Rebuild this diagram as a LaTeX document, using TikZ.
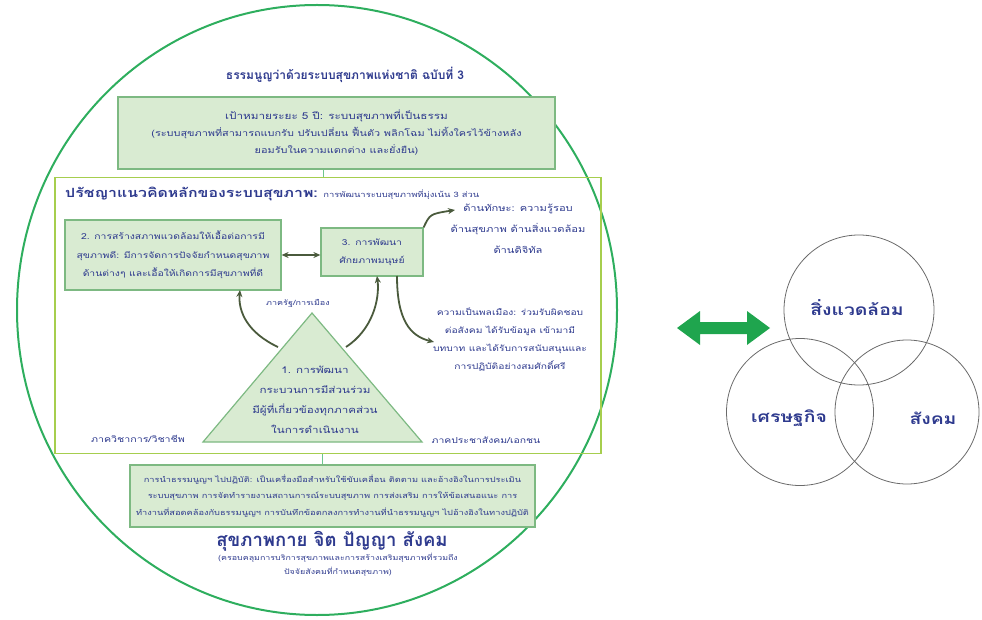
\documentclass[tikz,border=0pt]{standalone}
\usepackage{fontspec}
\newfontfamily\thai[Script=Thai]{Loma}
\newfontfamily\thaiw[Script=Thai,FakeStretch=1.25]{Loma}
\usetikzlibrary{arrows.meta}
\definecolor{txt}{HTML}{2E3A8E}
\definecolor{circ}{HTML}{2EAE5E}
\definecolor{yg}{HTML}{A6CE4E}
\definecolor{boxfill}{HTML}{D9EBD2}
\definecolor{boxline}{HTML}{7DB982}
\definecolor{arr}{HTML}{4A5A3C}
\definecolor{garrow}{HTML}{1FA54E}
\definecolor{venn}{HTML}{6A6A6A}
\newcommand{\fs}[2]{\thaiw\fontsize{#1}{#2}\selectfont}
\begin{document}
\begin{tikzpicture}[x=1pt,y=-1pt,
  every node/.style={font=\thaiw, text=txt, inner sep=0pt},
  gbox/.style={draw=boxline, fill=boxfill, line width=1.2pt, minimum width=#1},
  small/.style={align=center},
  curvearrow/.style={draw=arr, line width=1.8pt, -{Stealth[length=7pt,width=6pt]}},
  venncirc/.style={draw=venn, line width=0.8pt},
  vennlabel/.style={font=\fs{15.5}{18}\bfseries}]
\useasboundingbox (0,0) rectangle (982,620);
% big circle
\draw[circ, line width=2pt] (317,310) ellipse [x radius=300, y radius=305];
% title
\node[font=\thai\bfseries\fontsize{12}{15}\selectfont] (title) at (345,75) {ธรรมนูญว่าด้วยระบบสุขภาพแห่งชาติ ฉบับที่ 3};
% goal box
\node[gbox=437pt, minimum height=72pt, small, font=\fs{8.7}{17}] (goal) at (336.5,133)
 {{\fs{9.4}{17}เป้าหมายระยะ 5 ปี: ระบบสุขภาพที่เป็นธรรม}\\
  (ระบบสุขภาพที่สามารถแบกรับ ปรับเปลี่ยน ฟื้นตัว พลิกโฉม ไม่ทิ้งใครไว้ข้างหลัง\\
  ยอมรับในความแตกต่าง และยั่งยืน)};
% philosophy box
\node[draw=yg, line width=1.5pt, minimum width=546pt, minimum height=276pt] (phil) at (328,315.5) {};
\draw[circ!70, line width=1.2pt] ([xshift=-13pt]goal.south) -- ([xshift=-13pt]goal.south |- phil.north);
\node[anchor=west] (philhead) at (65,194)
 {{\fs{12.7}{14}\bfseries ปรัชญาแนวคิดหลักของระบบสุขภาพ:} {\fs{7.5}{12}การพัฒนาระบบสุขภาพที่มุ่งเน้น 3 ส่วน}};
% box 2
\node[gbox=216pt, minimum height=70pt, small, font=\fs{8.3}{18.5}] (b2) at (173,255)
 {2. การสร้างสภาพแวดล้อมให้เอื้อต่อการมี\\
  สุขภาพดี: มีการจัดการปัจจัยกำหนดสุขภาพ\\
  ด้านต่างๆ และเอื้อให้เกิดการมีสุขภาพที่ดี};
% box 3
\node[gbox=102pt, minimum height=48pt, small, font=\fs{8.3}{18}] (b3) at (372,252)
 {3. การพัฒนา\\ ศักยภาพมนุษย์};
\draw[draw=arr, line width=1.8pt, {Stealth[length=7pt,width=6pt]}-{Stealth[length=7pt,width=6pt]}] (b2.east |- 0,255) -- (b3.west |- 0,255);
% right texts
\node[small, font=\fs{8.9}{21}] (skills) at (518,229)
 {ด้านทักษะ: ความรู้รอบ\\ ด้านสุขภาพ ด้านสิ่งแวดล้อม\\ ด้านดิจิทัล};
\node[small, font=\fs{8.2}{18}] (citizen) at (510,340)
 {ความเป็นพลเมือง: ร่วมรับผิดชอบ\\ ต่อสังคม ได้รับข้อมูล เข้ามามี\\ บทบาท และได้รับการสนับสนุนและ\\ การปฏิบัติอย่างสมศักดิ์ศรี};
\coordinate (skillsend) at (455,210);
\coordinate (citizenend) at (434,342);
\draw[curvearrow] (b3.north east) .. controls (430,214) .. (skillsend);
\draw[curvearrow] (397,276) .. controls (397,320) and (410,336) .. (citizenend);
% triangle
\coordinate (apex) at (312,313);
\coordinate (bl) at (203,442);
\coordinate (br) at (422,442);
\draw[draw=boxline, fill=boxfill, line width=1.2pt] (apex) -- (br) -- (bl) -- cycle;
\node[small, font=\fs{9.3}{20}] (tri) at (315,400)
 {1. การพัฒนา\\ กระบวนการมีส่วนร่วม\\ มีผู้ที่เกี่ยวข้องทุกภาคส่วน\\ ในการดำเนินงาน};
\coordinate (trl) at (278,347);
\coordinate (trr) at (346,347);
\draw[curvearrow] (trl) .. controls (248,333) and (238,312) .. (240,290);
\draw[curvearrow] (trr) .. controls (372,330) and (380,300) .. (377,276);
\node[small, font=\fs{7.2}{12}] (gov) at (298,303) {ภาครัฐ/การเมือง};
\node[small, font=\fs{8.5}{12}] (acad) at (138,439) {ภาควิชาการ/วิชาชีพ};
\node[small, font=\fs{8.3}{12}] (civil) at (486,440) {ภาคประชาสังคม/เอกชน};
% bottom box
\node[gbox=405pt, minimum height=62pt, small, font=\fs{7.4}{16.5}] (impl) at (332.5,496)
 {การนำธรรมนูญฯ ไปปฏิบัติ: เป็นเครื่องมือสำหรับใช้ขับเคลื่อน ติดตาม และอ้างอิงในการประเมิน\\
  ระบบสุขภาพ การจัดทำรายงานสถานการณ์ระบบสุขภาพ การส่งเสริม การให้ข้อเสนอแนะ การ\\
  ทำงานที่สอดคล้องกับธรรมนูญฯ การบันทึกข้อตกลงการทำงานที่นำธรรมนูญฯ ไปอ้างอิงในทางปฏิบัติ};
\draw[circ!70, line width=1.2pt] ([xshift=-10pt]impl.north) -- ([xshift=-10pt]impl.north |- phil.south);
% bottom title
\node[font=\thai\bfseries\fontsize{18.5}{20}\selectfont] (health) at (332,541) {สุขภาพกาย จิต ปัญญา สังคม};
\node[small, font=\fs{7.1}{14}] (healthsub) at (338,565)
 {(ครอบคลุมการบริการสุขภาพและการสร้างเสริมสุขภาพที่รวมถึง\\ ปัจจัยสังคมที่กำหนดสุขภาพ)};
% green double arrow
\fill[garrow] (677,328) -- (700,311) -- (700,322) -- (747,322) -- (747,311) -- (770,328)
  -- (747,345) -- (747,334) -- (700,334) -- (700,345) -- cycle;
% venn
\node[venncirc, circle, minimum size=150pt] (env) at (859,310) {};
\node[venncirc, circle, minimum size=147pt] (eco) at (800,412) {};
\node[venncirc, circle, minimum size=144pt] (soc) at (907,412) {};
\node[vennlabel] (envl) at (857,308) {สิ่งแวดล้อม};
\node[vennlabel] (ecol) at (789,418) {เศรษฐกิจ};
\node[vennlabel] (socl) at (933,418) {สังคม};
\end{tikzpicture}
\end{document}
